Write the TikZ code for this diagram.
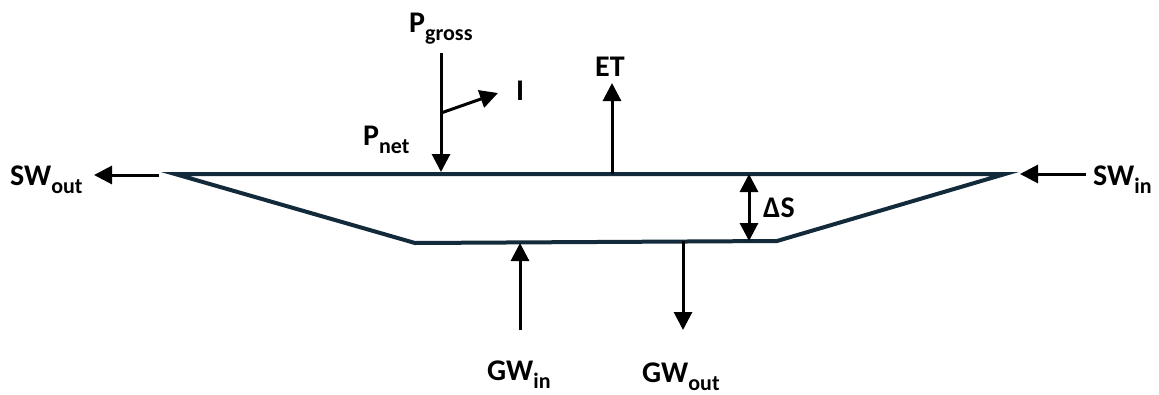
\documentclass[tikz,border=0pt]{standalone}
\usepackage{fontspec}
\setmainfont{Carlito}
\usetikzlibrary{arrows.meta}
\definecolor{basin}{RGB}{18,42,58}
\newcommand\subt[1]{\raisebox{-0.27em}{\fontsize{22}{22}\selectfont\bfseries #1}}
\tikzset{
  lbl/.style={inner sep=0pt, anchor=base west, font=\fontsize{30}{30}\selectfont\bfseries},
  flow/.style={line width=3pt, -{Triangle[length=18pt,width=18pt]}},
  flowboth/.style={line width=3pt, {Triangle[length=18pt,width=18pt]}-{Triangle[length=18pt,width=18pt]}},
  basinline/.style={draw=basin, line width=4pt, line join=miter}
}
\begin{document}
\begin{tikzpicture}[x=1pt,y=-1pt]
\useasboundingbox (0,0) rectangle (1159,394);
% basin
\coordinate (tl) at (175,174);
\coordinate (tr) at (1005,174);
\coordinate (br) at (777,241);
\coordinate (bl) at (415,243);
\draw[basinline] (tl) -- (tr) -- (br) -- (bl) -- cycle;
% labels
\node[lbl] (pg) at (409,32) {P\subt{gross}};
\node[lbl] (pn) at (363,145) {P\subt{net}};
\node[lbl] (il) at (516,100) {I};
\node[lbl] (et) at (595,76) {ET};
\node[lbl] (swo) at (10,185) {SW\subt{out}};
\node[lbl] (swi) at (1093,185) {SW\subt{in}};
\node[lbl] (ds) at (763,217) {ΔS};
\node[lbl] (gwi) at (487,380) {GW\subt{in}};
\node[lbl] (gwo) at (642,382) {GW\subt{out}};
% arrow points
\coordinate (ptop) at (441,53);
\coordinate (pbot) at (441,172);
\coordinate (ibr) at (441,113);
\coordinate (itip) at (498,93);
\coordinate (etb) at (612,174);
\coordinate (ett) at (612,83);
\coordinate (swos) at (159,175);
\coordinate (swot) at (94,175);
\coordinate (swis) at (1086,174);
\coordinate (swit) at (1020,174);
\coordinate (dst) at (749,174);
\coordinate (dsb) at (749,241);
\coordinate (gwis) at (520,330);
\coordinate (gwit) at (520,243);
\coordinate (gwos) at (683,241);
\coordinate (gwot) at (683,330);
\draw[flow] (ptop) -- (pbot);
\draw[flow] (ibr) -- (itip);
\draw[flow] (etb) -- (ett);
\draw[flow] (swos) -- (swot);
\draw[flow] (swis) -- (swit);
\draw[flowboth] (dst) -- (dsb);
\draw[flow] (gwis) -- (gwit);
\draw[flow] (gwos) -- (gwot);
\end{tikzpicture}
\end{document}
